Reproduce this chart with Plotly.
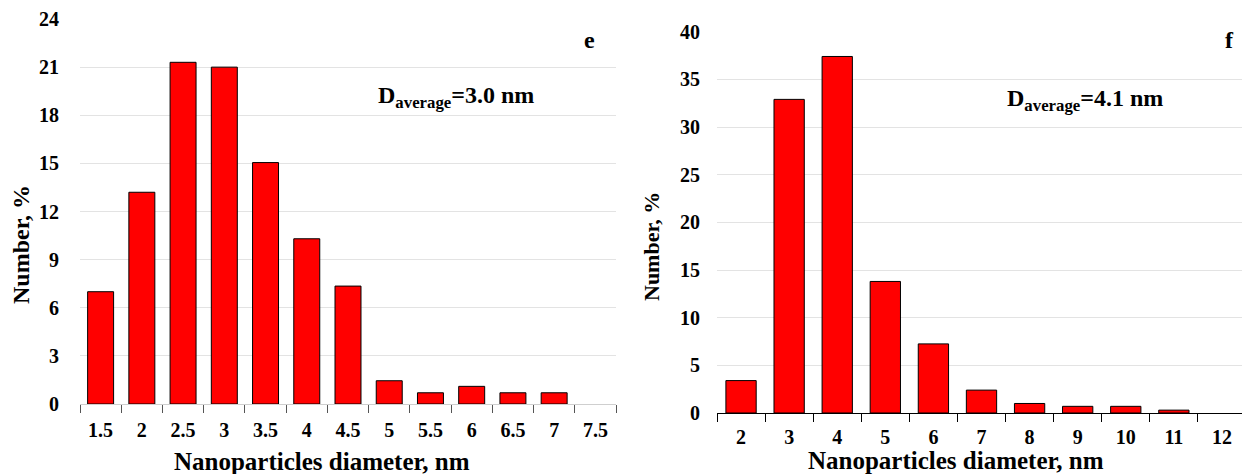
import plotly.graph_objects as go

# Left panel (e)
cats_e = ["1.5", "2", "2.5", "3", "3.5", "4", "4.5", "5", "5.5", "6", "6.5", "7", "7.5"]
vals_e = [7.0, 13.2, 21.3, 21.0, 15.05, 10.3, 7.35, 1.45, 0.7, 1.1, 0.7, 0.7, 0.0]
yticks_e = [0, 3, 6, 9, 12, 15, 18, 21, 24]

# Right panel (f)
cats_f = ["2", "3", "4", "5", "6", "7", "8", "9", "10", "11", "12"]
vals_f = [3.4, 32.9, 37.4, 13.8, 7.25, 2.4, 1.0, 0.7, 0.7, 0.3, 0.0]
yticks_f = [0, 5, 10, 15, 20, 25, 30, 35, 40]

FONT = "Liberation Serif"
W, H = 1242, 466  # page body has an 8px margin inside the 1250x474 window


def bar(cats, vals, xa, ya):
    widths = [1 if v > 0 else 0 for v in vals]
    return go.Bar(x=cats, y=vals, xaxis=xa, yaxis=ya, showlegend=False,
                  marker=dict(color="#ff0000", line=dict(color="#000000", width=widths)))


fig = go.Figure()
fig.add_trace(bar(cats_e, vals_e, "x", "y"))
fig.add_trace(bar(cats_f, vals_f, "x2", "y2"))

tickfont = dict(family=FONT, size=20, color="#000000", weight="bold")

common_x = dict(type="category", tickson="boundaries", ticks="outside", ticklen=8,
                tickwidth=1, showgrid=False, tickfont=tickfont,
                showline=True, automargin=False)
common_y = dict(showgrid=True, gridcolor="#e3e3e3", gridwidth=1, zeroline=False,
                showline=False, ticks="", tickfont=tickfont, automargin=False)


def px_x(a, b):
    return [(a - 8) / W, (b - 8) / W]


def px_y(top, bottom):
    return [1 - (bottom - 8) / H, 1 - (top - 8) / H]


fig.update_layout(
    width=W, height=H,
    margin=dict(l=0, r=0, t=0, b=0, autoexpand=False),
    paper_bgcolor="white", plot_bgcolor="white",
    bargap=0.37,
    xaxis=dict(domain=px_x(80, 616), anchor="y", linecolor="#cfcfcf", tickcolor="#555555",
               categoryorder="array", categoryarray=cats_e, ticklabelstandoff=8,
               **common_x),
    yaxis=dict(domain=px_y(19, 404), anchor="x", range=[0, 24], tickvals=yticks_e,
               ticklabelstandoff=20, **common_y),
    xaxis2=dict(domain=px_x(717, 1246), anchor="y2", linecolor="#000000", tickcolor="#000000",
                categoryorder="array", categoryarray=cats_f, ticklabelstandoff=6,
                **common_x),
    yaxis2=dict(domain=px_y(31.7, 413), anchor="x2", range=[0, 40], tickvals=yticks_f,
                ticklabelstandoff=16, **common_y),
)


def note(text, cx, cy, size, angle=0):
    fig.add_annotation(text=text, xref="paper", yref="paper",
                       x=(cx - 8) / W, y=1 - (cy - 8) / H, textangle=angle,
                       xanchor="center", yanchor="middle", showarrow=False,
                       font=dict(family=FONT, size=size, color="#000000", weight="bold"))


# axis titles
note("Nanoparticles diameter, nm", 322, 461, 25)
note("Nanoparticles diameter, nm", 956, 460, 25)
note("Number, %", 21, 245, 24, -90)
note("Number, %", 651, 247, 22, -90)

# panel labels and averages
note("e", 589, 40, 24)
note("D<sub>average</sub>=3.0 nm", 456, 97, 24)
note("f", 1229, 40, 24)
note("D<sub>average</sub>=4.1 nm", 1085, 100, 24)

fig.write_html("out.html")
